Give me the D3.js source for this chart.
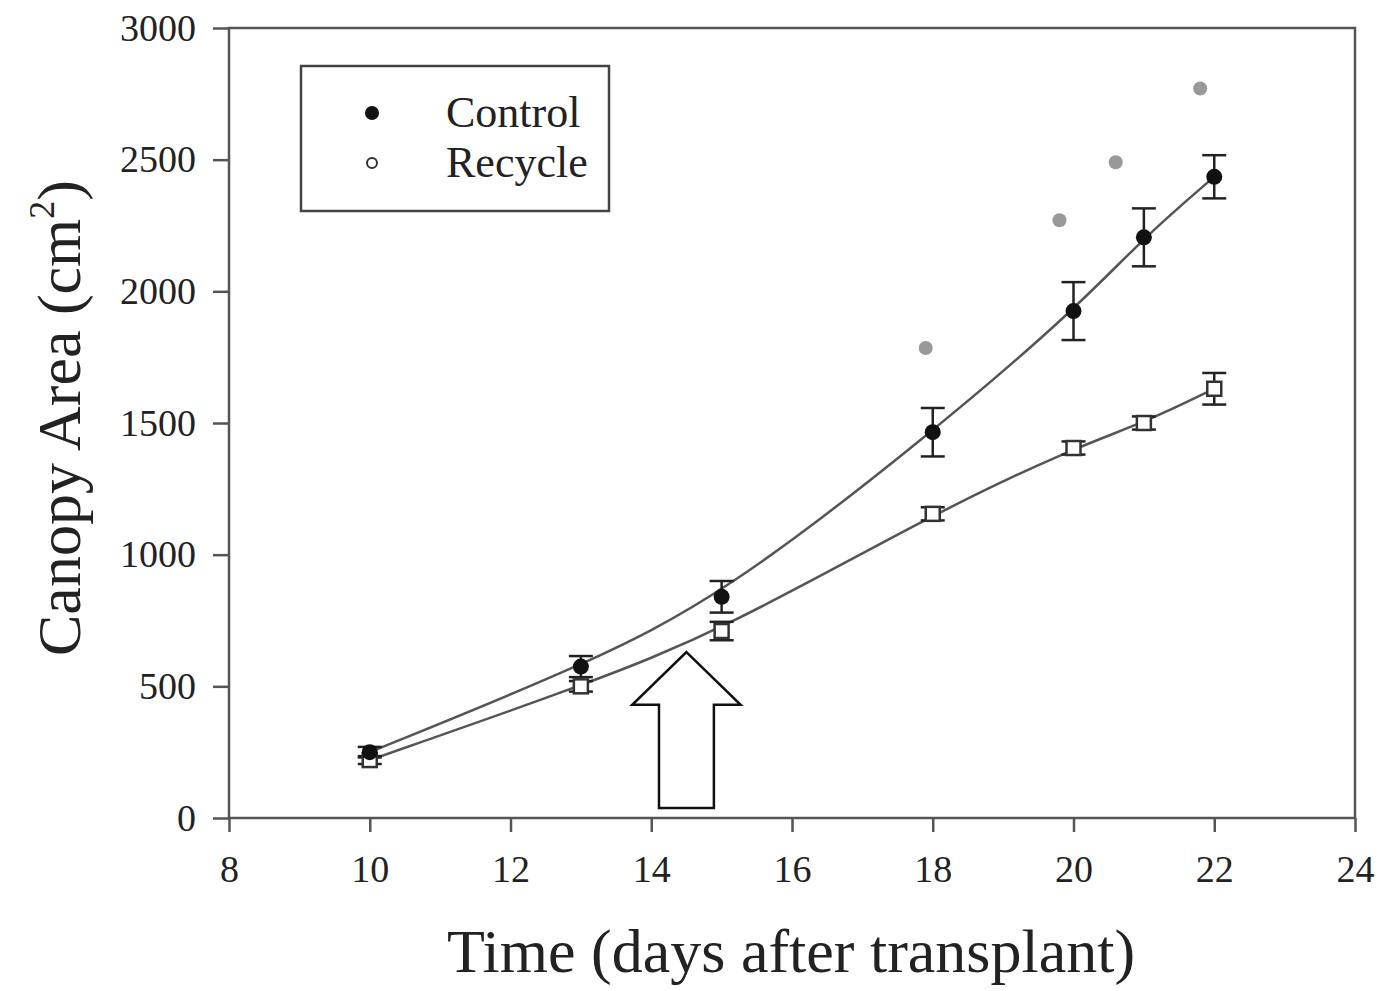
<!DOCTYPE html>
<html>
<head>
<meta charset="utf-8">
<script src="https://cdn.jsdelivr.net/npm/d3@7"></script>
<style>
    body { margin: 0; background: #fff; }
    text { font-family: "Liberation Serif", "Times New Roman", serif; fill: #222; }
</style>
</head>
<body>
<script>
// values
var days = [10, 13, 15, 18, 20, 21, 22];
var control = [250, 575, 840, 1465, 1925, 2205, 2435];
var controlErr = [20, 40, 60, 92, 110, 110, 82];
var recycle = [220, 500, 710, 1155, 1405, 1500, 1630];
var recycleErr = [15, 20, 35, 25, 25, 25, 60];
var starDays = [17.9, 19.8, 20.6, 21.8];
var starValues = [1785, 2270, 2490, 2770];
var xTicks = [8, 10, 12, 14, 16, 18, 20, 22, 24];
var yTicks = [0, 500, 1000, 1500, 2000, 2500, 3000];
var legendLabels = ["Control", "Recycle"];
// arrow annotation (days / canopy area)
var arrowDay = 14.5;
var arrowTip = 630, arrowNeck = 430, arrowFoot = 38;
var arrowHead = 0.77, arrowShaft = 0.39;

function init() {
    var w = 1386;
    var h = 991;

    var xScale = d3.scaleLinear()
        .domain([8, 24])
        .range([229, 1355]);

    var yScale = d3.scaleLinear()
        .domain([0, 3000])
        .range([818, 28]);

    var svg = d3.select("body")
        .append("svg")
        .attr("width", w)
        .attr("height", h);

    // frame
    svg.append("rect")
        .attr("x", xScale(8))
        .attr("y", yScale(3000))
        .attr("width", xScale(24) - xScale(8))
        .attr("height", yScale(0) - yScale(3000))
        .attr("fill", "none")
        .attr("stroke", "#555")
        .attr("stroke-width", 2.5);

    // axes
    var xAxis = svg.append("g")
        .attr("transform", "translate(0," + yScale(0) + ")")
        .call(d3.axisBottom(xScale)
            .tickValues(xTicks)
            .tickSize(14)
            .tickPadding(23)
            .tickFormat(d3.format("d")));

    var yAxis = svg.append("g")
        .attr("transform", "translate(" + xScale(8) + ",0)")
        .call(d3.axisLeft(yScale)
            .tickValues(yTicks)
            .tickSize(16)
            .tickPadding(17)
            .tickFormat(d3.format("d")));

    [xAxis, yAxis].forEach(function (a) {
        a.select(".domain").remove();
        a.selectAll(".tick line")
            .attr("stroke", "#555")
            .attr("stroke-width", 2.5);
        a.selectAll(".tick text")
            .attr("font-family", "Liberation Serif")
            .attr("font-size", 38)
            .attr("fill", "#333");
    });

    // axis titles
    svg.append("text")
        .attr("x", 791)
        .attr("y", 972)
        .attr("text-anchor", "middle")
        .attr("font-size", 62)
        .text("Time (days after transplant)");

    var yTitle = svg.append("text")
        .attr("transform", "translate(80,418) rotate(-90)")
        .attr("text-anchor", "middle")
        .attr("font-size", 62);
    yTitle.append("tspan").text("Canopy Area (cm");
    yTitle.append("tspan")
        .attr("font-size", 36)
        .attr("dy", -26)
        .text("2");
    yTitle.append("tspan")
        .attr("dy", 26)
        .text(")");

    // fitted curves
    var line = d3.line()
        .x(function (d, i) { return xScale(days[i]); })
        .y(function (d) { return yScale(d); })
        .curve(d3.curveBasis);

    [control, recycle].forEach(function (series) {
        svg.append("path")
            .datum(series)
            .attr("d", line)
            .attr("fill", "none")
            .attr("stroke", "#555")
            .attr("stroke-width", 2.5);
    });

    // error bars
    function errorBars(series, err) {
        var g = svg.append("g")
            .attr("stroke", "#222")
            .attr("stroke-width", 2.5);
        g.selectAll("line.v")
            .data(series)
            .enter()
            .append("line")
            .attr("x1", function (d, i) { return xScale(days[i]); })
            .attr("x2", function (d, i) { return xScale(days[i]); })
            .attr("y1", function (d, i) { return yScale(d - err[i]); })
            .attr("y2", function (d, i) { return yScale(d + err[i]); });
        [-1, 1].forEach(function (s) {
            g.selectAll("line.c" + s)
                .data(series)
                .enter()
                .append("line")
                .attr("x1", function (d, i) { return xScale(days[i]) - 12; })
                .attr("x2", function (d, i) { return xScale(days[i]) + 12; })
                .attr("y1", function (d, i) { return yScale(d + s * err[i]); })
                .attr("y2", function (d, i) { return yScale(d + s * err[i]); });
        });
    }
    errorBars(recycle, recycleErr);
    errorBars(control, controlErr);

    // recycle markers (open squares)
    svg.selectAll("rect.recycle")
        .data(recycle)
        .enter()
        .append("rect")
        .attr("class", "recycle")
        .attr("x", function (d, i) { return xScale(days[i]) - 7; })
        .attr("y", function (d) { return yScale(d) - 7; })
        .attr("width", 14)
        .attr("height", 14)
        .attr("fill", "#fff")
        .attr("stroke", "#333")
        .attr("stroke-width", 2.5);

    // control markers (filled circles)
    svg.selectAll("circle.control")
        .data(control)
        .enter()
        .append("circle")
        .attr("class", "control")
        .attr("cx", function (d, i) { return xScale(days[i]); })
        .attr("cy", function (d) { return yScale(d); })
        .attr("r", 8)
        .attr("fill", "#111");

    // significance marks
    svg.selectAll("circle.star")
        .data(starValues)
        .enter()
        .append("circle")
        .attr("class", "star")
        .attr("cx", function (d, i) { return xScale(starDays[i]); })
        .attr("cy", function (d) { return yScale(d); })
        .attr("r", 7)
        .attr("fill", "#999");

    // arrow
    var arrowPts = [
        [arrowDay, arrowTip],
        [arrowDay + arrowHead, arrowNeck],
        [arrowDay + arrowShaft, arrowNeck],
        [arrowDay + arrowShaft, arrowFoot],
        [arrowDay - arrowShaft, arrowFoot],
        [arrowDay - arrowShaft, arrowNeck],
        [arrowDay - arrowHead, arrowNeck]
    ];
    svg.append("polygon")
        .attr("points", arrowPts.map(function (p) {
            return xScale(p[0]) + "," + yScale(p[1]);
        }).join(" "))
        .attr("fill", "#fff")
        .attr("stroke", "#111")
        .attr("stroke-width", 2.5);

    // legend
    var legend = svg.append("g");
    legend.append("rect")
        .attr("x", 301)
        .attr("y", 66)
        .attr("width", 308)
        .attr("height", 145)
        .attr("fill", "#fff")
        .attr("stroke", "#444")
        .attr("stroke-width", 2.5);
    legend.append("circle")
        .attr("cx", 372)
        .attr("cy", 113)
        .attr("r", 7)
        .attr("fill", "#111");
    legend.append("circle")
        .attr("cx", 372)
        .attr("cy", 163)
        .attr("r", 5)
        .attr("fill", "#fff")
        .attr("stroke", "#333")
        .attr("stroke-width", 2);
    legend.selectAll("text")
        .data(legendLabels)
        .enter()
        .append("text")
        .attr("x", 446)
        .attr("y", function (d, i) { return 127 + i * 50; })
        .attr("font-size", 44)
        .text(function (d) { return d; });
}

window.onload = init;
</script>
</body>
</html>
